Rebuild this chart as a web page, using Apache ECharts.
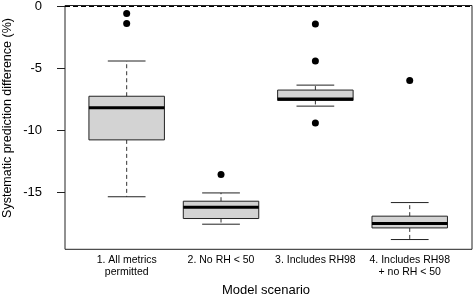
<!DOCTYPE html>
<html><head><meta charset="utf-8">
<script src="https://cdn.jsdelivr.net/npm/echarts@6/dist/echarts.min.js"></script>
<style>html,body{margin:0;padding:0;background:#fff}#c{width:475px;height:298px}</style>
</head><body><div id="c"></div>
<script>
const categories = ['1. All metrics\npermitted', '2. No RH < 50', '3. Includes RH98', '4. Includes RH98\n+ no RH < 50'];
const lowerWhisker = [-15.39, -17.61, -8.06, -18.85];
const q1 = [-10.79, -17.15, -7.60, -17.91];
const median = [-8.19, -16.23, -7.49, -17.55];
const q3 = [-7.26, -15.75, -6.76, -16.96];
const upperWhisker = [-4.41, -15.08, -6.36, -15.86];
const outliers = [[0, -0.57], [0, -1.38], [1, -13.58], [2, -1.41], [2, -4.41], [2, -9.43], [3, -5.99]];
const yTicks = [0, -5, -10, -15];
const refLine = 0;

const FONT = "'Liberation Sans', Arial, sans-serif";
const boxData = categories.map((c, i) => [i, lowerWhisker[i], q1[i], median[i], q3[i], upperWhisker[i]]);

const chart = echarts.init(document.getElementById('c'), null, {renderer: 'canvas'});
chart.setOption({
  animation: false,
  textStyle: {fontFamily: FONT},
  grid: [
    {left: 65, right: 3, top: 5.5, bottom: 48.7, show: true, borderColor: '#222', borderWidth: 1, backgroundColor: 'transparent'},
    {left: 79.5, right: 18.1, top: 5.5, bottom: 48.7}
  ],
  xAxis: [
    {gridIndex: 0, type: 'value', min: 0, max: 1, show: false},
    {gridIndex: 1, type: 'category', data: categories,
      axisLine: {show: false}, axisTick: {show: false}, splitLine: {show: false},
      axisLabel: {color: '#000', fontSize: 10.5, fontFamily: FONT, margin: 5, lineHeight: 12, interval: 0}}
  ],
  yAxis: [
    {gridIndex: 0, type: 'value', min: -19.64, max: 0.08,
      axisLine: {show: false}, splitLine: {show: false},
      axisTick: {show: true, length: 8, customValues: yTicks, lineStyle: {color: '#222'}},
      axisLabel: {color: '#000', fontSize: 13, fontFamily: FONT, margin: 23, customValues: yTicks}},
    {gridIndex: 1, type: 'value', min: -19.64, max: 0.08, show: false}
  ],
  graphic: [
    {type: 'text', x: 266, y: 290, style: {text: 'Model scenario', fontSize: 13, fontFamily: FONT, fill: '#000', align: 'center', verticalAlign: 'middle'}},
    {type: 'text', x: 8, y: 118, rotation: Math.PI / 2, style: {text: 'Systematic prediction difference (%)', fontSize: 12.5, fontFamily: FONT, fill: '#000', align: 'center', verticalAlign: 'middle'}}
  ],
  series: [
    {type: 'line', xAxisIndex: 0, yAxisIndex: 0, data: [[0, refLine], [1, refLine]], symbol: 'none',
      lineStyle: {color: '#000', width: 1, type: [5, 3]}, silent: true},
    {type: 'custom', xAxisIndex: 1, yAxisIndex: 1, data: boxData,
      encode: {x: 0, y: [1, 2, 3, 4, 5]},
      renderItem: function (params, api) {
        const x = api.value(0);
        const bw = api.size([1, 0])[0] * 0.8;
        const cap = bw / 2;
        const pLw = api.coord([x, api.value(1)]);
        const pQ1 = api.coord([x, api.value(2)]);
        const pMed = api.coord([x, api.value(3)]);
        const pQ3 = api.coord([x, api.value(4)]);
        const pUw = api.coord([x, api.value(5)]);
        const cx = pMed[0];
        const dash = {stroke: '#333', lineWidth: 1, lineDash: [4, 3]};
        const solid = {stroke: '#222', lineWidth: 1};
        return {type: 'group', children: [
          {type: 'line', shape: {x1: cx, y1: pQ3[1], x2: cx, y2: pUw[1]}, style: dash},
          {type: 'line', shape: {x1: cx, y1: pQ1[1], x2: cx, y2: pLw[1]}, style: dash},
          {type: 'line', shape: {x1: cx - cap / 2, y1: pUw[1], x2: cx + cap / 2, y2: pUw[1]}, style: solid},
          {type: 'line', shape: {x1: cx - cap / 2, y1: pLw[1], x2: cx + cap / 2, y2: pLw[1]}, style: solid},
          {type: 'rect', shape: {x: cx - bw / 2, y: pQ3[1], width: bw, height: pQ1[1] - pQ3[1]},
            style: {fill: '#d3d3d3', stroke: '#222', lineWidth: 1}},
          {type: 'line', shape: {x1: cx - bw / 2, y1: pMed[1], x2: cx + bw / 2, y2: pMed[1]}, style: {stroke: '#000', lineWidth: 3}}
        ]};
      }},
    {type: 'scatter', xAxisIndex: 1, yAxisIndex: 1, data: outliers, symbol: 'circle', symbolSize: 7,
      itemStyle: {color: '#000', opacity: 1}}
  ]
});
</script></body></html>
